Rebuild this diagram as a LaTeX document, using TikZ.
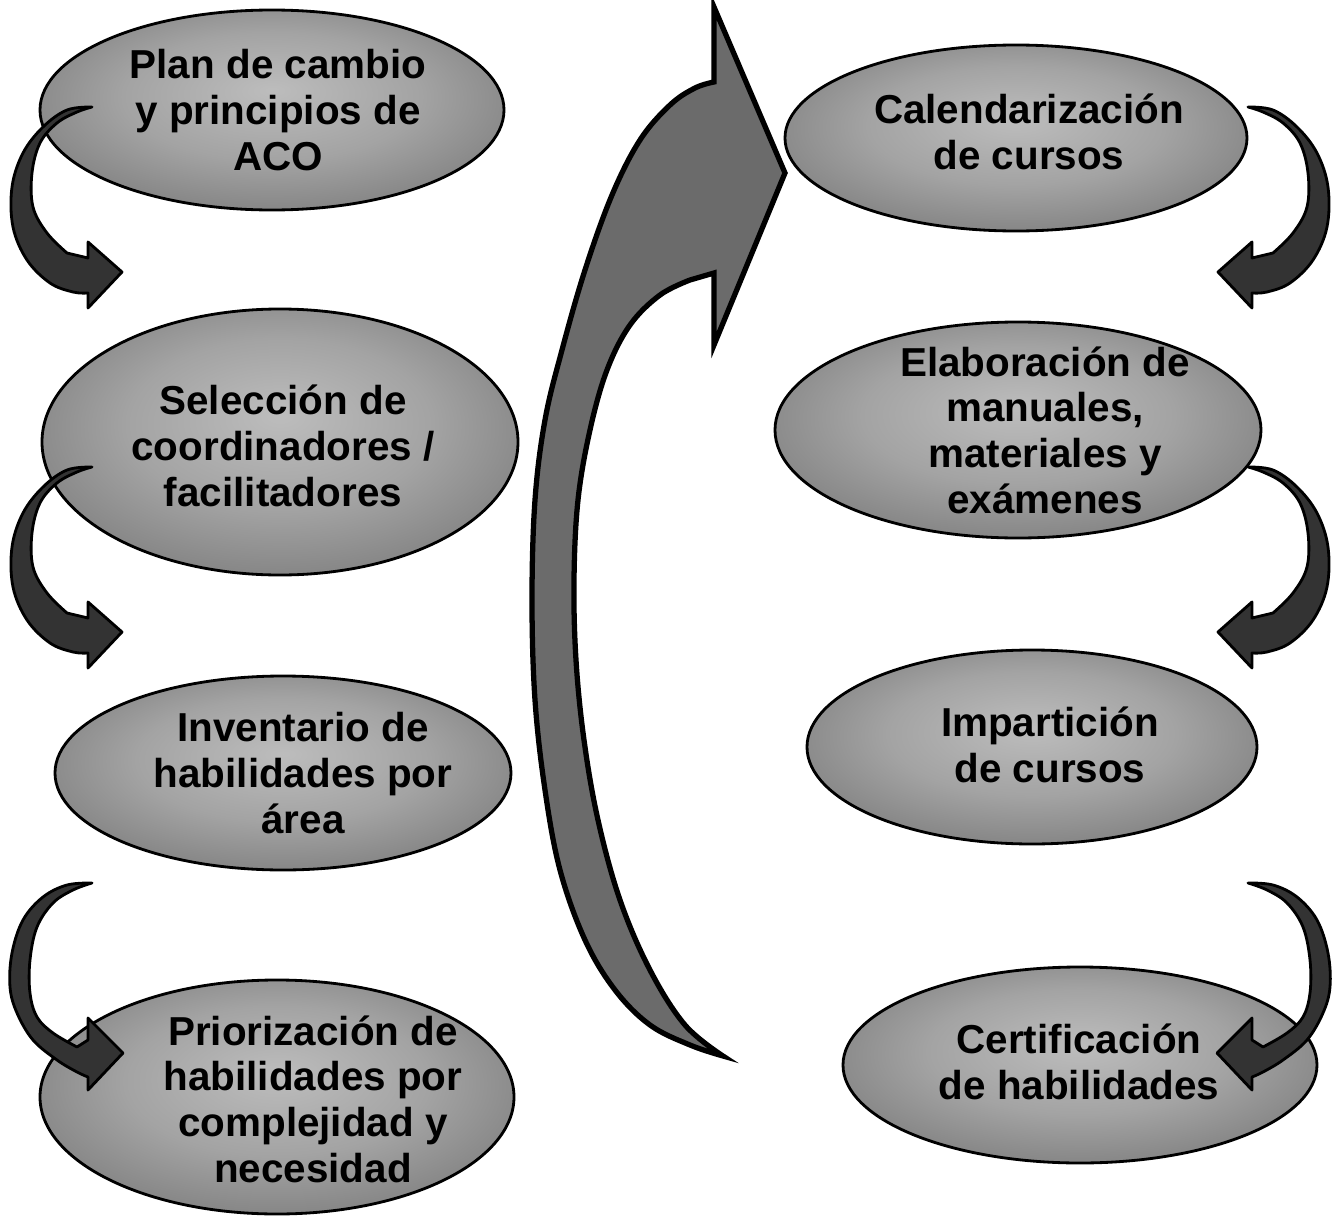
\documentclass[tikz,border=0pt]{standalone}
\usepackage{fontspec}
\setmainfont{Liberation Sans}
\usetikzlibrary{shapes.geometric,calc}

% grey oval fill: lighter middle, heavy dark rim (darker towards the bottom)
\pgfdeclareradialshading{ovalshade}{\pgfpoint{0bp}{5bp}}{%
  color(0bp)=(black!26);
  color(16bp)=(black!36);
  color(30bp)=(black!50);
  color(40bp)=(black!64);
  color(46bp)=(black!84);
  color(50bp)=(black)}

\begin{document}
\begin{tikzpicture}[x=0.02cm,y=-0.02cm,
  oval/.style={ellipse, draw=black, line width=1.6pt, shade, shading=ovalshade, inner sep=0pt},
  ow/.style={minimum width=#1*0.02cm},
  oh/.style={minimum height=#1*0.02cm},
  lbl/.style={font=\fontsize{23}{26}\selectfont\bfseries, align=center, text=black, inner sep=0pt},
  curlfill/.style={fill=black!80, draw=black, line width=1.6pt, line join=round},
  bigfill/.style={fill=black!58, draw=black, line width=3pt, line join=miter},
  % curved tapered arrow, tail at the pic origin
  curlA/.pic={
    \filldraw[curlfill] plot[smooth,tension=0.6] coordinates {(0,0) (-25,3) (-49,20) (-69,46) (-80,80) (-79,120) (-65,153) (-42,176) (-19,185) (-4,186)}
      -- (-4,201) -- (30,165) -- (-4,135) -- (-4,151)
      -- plot[smooth,tension=0.6] coordinates {(-25,146) (-45,126) (-59,100) (-60,66) (-52,36) (-35,16) (-15,5) (0,0)} -- cycle;
  },
  curlB/.pic={
    \filldraw[curlfill] plot[smooth,tension=0.6] coordinates {(0,0) (-25,2) (-49,14) (-69,37) (-80,70) (-82,104) (-75,130) (-59,157) (-35,177) (-15,189) (-4,194)}
      -- (-4,207) -- (31,170) -- (-4,135) -- (-4,157)
      -- plot[smooth,tension=0.6] coordinates {(-15,164) (-39,150) (-55,134) (-62,110) (-62,77) (-55,44) (-39,20) (-19,7) (0,0)} -- cycle;
  }]

\useasboundingbox (0,0) rectangle (1340,1217);
\fill[white] (0,0) rectangle (1340,1217);

% ovals, left column
\node[oval, ow=464, oh=200] (e1) at (272,110) {};
\node[oval, ow=476, oh=266] (e2) at (280,442) {};
\node[oval, ow=456, oh=194] (e3) at (283,773) {};
\node[oval, ow=474, oh=234] (e4) at (277,1097) {};
% ovals, right column
\node[oval, ow=462, oh=186] (e5) at (1016,138) {};
\node[oval, ow=486, oh=216] (e6) at (1018,430) {};
\node[oval, ow=450, oh=194] (e7) at (1032,747) {};
\node[oval, ow=474, oh=196] (e8) at (1080,1065) {};

% large sweeping arrow from the left column to the right column
\coordinate (bigtail) at (723,1056);
\filldraw[bigfill] plot[smooth,tension=0.6] coordinates {(bigtail) (690,1045) (650,1025) (615,990) (585,940) (560,870) (545,790) (535,700) (532,600) (535,500) (545,420) (562,350) (585,270) (612,195) (640,140) (670,105) (695,88) (714,82)}
  -- (714,7) -- (785,173) -- (714,345) -- (714,273)
  -- plot[smooth,tension=0.6] coordinates {(690,280) (660,295) (630,325) (607,370) (590,430) (578,500) (574,580) (576,660) (584,740) (598,820) (620,900) (650,970) (685,1025) (bigtail)} -- cycle;

% step arrows, left column
\coordinate (s1) at (92,107);
\coordinate (s2) at (92,467);
\coordinate (s3) at (92,883);
\pic at (s1) {curlA};
\pic at (s2) {curlA};
\pic at (s3) {curlB};
% step arrows, right column
\coordinate (s5) at (1248,107);
\coordinate (s6) at (1248,467);
\coordinate (s7) at (1248,883);
\pic[xscale=-1] at (s5) {curlA};
\pic[xscale=-1] at (s6) {curlA};
\pic[xscale=-1] at (s7) {curlB};

% labels
\node[lbl] (t1) at (278,110) {Plan de cambio\\y principios de\\ACO};
\node[lbl] (t2) at (283,446) {Selección de\\coordinadores /\\facilitadores};
\node[lbl] (t3) at (303,773) {Inventario de\\habilidades por\\área};
\node[lbl] (t4) at (313,1099) {Priorización de\\habilidades por\\complejidad y\\necesidad};
\node[lbl] (t5) at (1029,132) {Calendarización\\de cursos};
\node[lbl] (t6) at (1045,430) {Elaboración de\\manuales,\\materiales y\\exámenes};
\node[lbl] (t7) at (1050,745) {Impartición\\de cursos};
\node[lbl] (t8) at (1079,1062) {Certificación\\de habilidades};
\end{tikzpicture}
\end{document}
